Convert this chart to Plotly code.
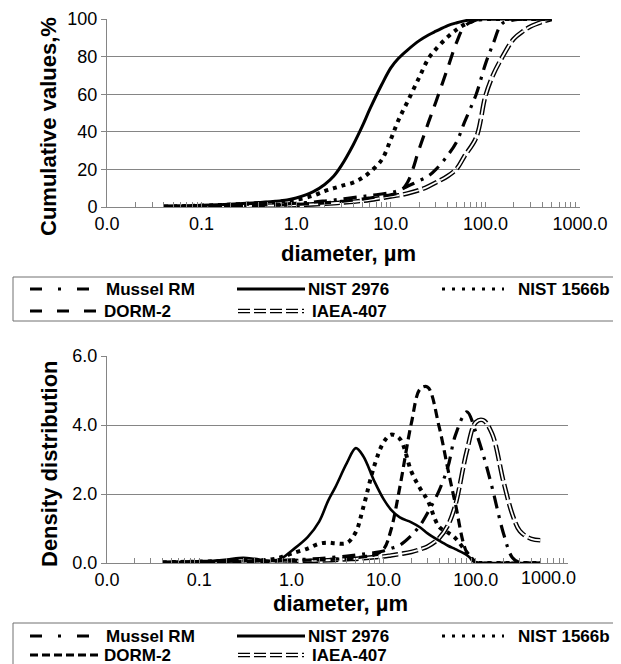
import plotly.graph_objects as go

# ---------------- data ----------------
diameter = [0.04, 0.06, 0.1, 0.15, 0.2, 0.3, 0.4, 0.6, 0.8, 1.0,
            1.5, 2, 2.5, 3, 4, 5, 6, 8, 10,
            12, 15, 20, 25, 30, 40, 50, 60, 80, 100,
            120, 150, 200, 250, 300, 400, 500]

series_names = ["Mussel RM", "NIST 2976", "NIST 1566b", "DORM-2", "IAEA-407"]

cum_mussel = [0.1, 0.2, 0.4, 0.5, 0.7, 0.9, 1.1, 1.4, 1.7, 2.0,
              2.6, 3.2, 3.7, 4.2, 5.0, 5.6, 6.1, 6.9, 7.6,
              8.7, 11, 14, 16.5, 20, 27.5, 35, 45, 60, 76,
              86.5, 97.5, 99.5, 100, 100, 100, 100]
cum_nist2976 = [0.3, 0.5, 0.9, 1.2, 1.5, 2.0, 2.4, 3.0, 3.7, 4.8,
                8, 12, 16.5, 22, 33, 43, 52, 65, 74,
                79, 83.5, 88.5, 91.5, 93.5, 96.5, 98, 99, 100, 100,
                100, 100, 100, 100, 100, 100, 100]
cum_nist1566b = [0.2, 0.4, 0.7, 1.0, 1.3, 1.7, 2.0, 2.6, 3.2, 3.8,
                 6.0, 8.5, 10, 11.2, 13, 15.5, 18.5, 25, 36,
                 46, 56, 69, 79, 84, 90.5, 94.5, 97, 99.5, 100,
                 100, 100, 100, 100, 100, 100, 100]
cum_dorm2 = [0.1, 0.2, 0.3, 0.4, 0.5, 0.7, 0.8, 1.0, 1.2, 1.4,
             1.8, 2.2, 2.6, 3.0, 3.6, 4.2, 4.8, 5.8, 6.5,
             7.5, 13, 31, 45, 56, 74, 88, 96, 99.5, 100,
             100, 100, 100, 100, 100, 100, 100]
cum_iaea407 = [0.05, 0.1, 0.2, 0.3, 0.4, 0.5, 0.6, 0.8, 0.9, 1.0,
               1.4, 1.7, 2.0, 2.3, 2.8, 3.3, 3.8, 4.8, 5.6,
               6.2, 7.2, 9.0, 11, 13, 16.5, 20.5, 27, 37, 59,
               70, 79.5, 89.5, 93.5, 96, 98.5, 100]

den_mussel = [0.01, 0.02, 0.03, 0.04, 0.05, 0.06, 0.06, 0.07, 0.08, 0.09,
              0.11, 0.13, 0.15, 0.17, 0.2, 0.23, 0.26, 0.3, 0.35,
              0.42, 0.52, 0.8, 1.1, 1.45, 2.1, 2.8, 3.7, 4.38, 3.8,
              3.15, 2.2, 0.85, 0.15, 0.01, 0, 0]
den_nist2976 = [0.02, 0.03, 0.05, 0.07, 0.1, 0.15, 0.12, 0.06, 0.15, 0.35,
                0.75, 1.2, 1.8, 2.2, 2.9, 3.33, 3.1, 2.35, 1.85,
                1.55, 1.32, 1.18, 1.03, 0.86, 0.65, 0.5, 0.4, 0.23, 0.02,
                0, 0, 0, 0, 0, 0, 0]
den_nist1566b = [0.02, 0.03, 0.04, 0.05, 0.06, 0.08, 0.08, 0.1, 0.18, 0.27,
                 0.42, 0.56, 0.59, 0.57, 0.58, 0.9, 1.6, 2.85, 3.5,
                 3.72, 3.6, 2.65, 2.15, 1.82, 1.05, 0.88, 0.72, 0.3, 0.02,
                 0, 0, 0, 0, 0, 0, 0]
den_dorm2 = [0.01, 0.01, 0.02, 0.02, 0.03, 0.04, 0.04, 0.05, 0.06, 0.07,
             0.08, 0.09, 0.1, 0.11, 0.13, 0.15, 0.18, 0.24, 0.4,
             0.95, 2.2, 4.05, 5.05, 5.1, 3.95, 2.7, 1.72, 0.3, 0.02,
             0, 0, 0, 0, 0, 0, 0]
den_iaea407 = [0, 0.01, 0.01, 0.01, 0.02, 0.02, 0.03, 0.03, 0.04, 0.05,
               0.06, 0.07, 0.08, 0.09, 0.11, 0.12, 0.14, 0.17, 0.19,
               0.22, 0.26, 0.32, 0.4, 0.48, 0.72, 1.1, 1.68, 3.25, 4.08,
               4.14, 3.75, 2.35, 1.4, 0.93, 0.7, 0.66]

x_tickvals = [0.01, 0.1, 1, 10, 100, 1000]
x_ticktext = ["0.0", "0.1", "1.0", "10.0", "100.0", "1000.0"]
minor_vals = [m * 10 ** k for k in range(-2, 3) for m in range(2, 10)]

cum_series = [cum_mussel, cum_nist2976, cum_nist1566b, cum_dorm2, cum_iaea407]
den_series = [den_mussel, den_nist2976, den_nist1566b, den_dorm2, den_iaea407]

# ---------------- styling ----------------
# the page has an 8px body margin, so the figure is 8px smaller and all
# page-pixel positions are shifted by 8px
OFF = 8
W, H = 621 - OFF, 664 - OFF
FONT = "Liberation Sans, Arial, Helvetica, sans-serif"
GRAY = "#858585"


def px(x):
    return (x - OFF) / W


def py(y):
    return 1 - (y - OFF) / H


styles_top = [
    dict(color="black", width=3.2, dash="13px,7px,3px,7px"),
    dict(color="black", width=3, dash="solid"),
    dict(color="black", width=4, dash="4px,5px"),
    dict(color="black", width=3.2, dash="13px,9px"),
    None,
]
styles_bot = [
    dict(color="black", width=3.2, dash="13px,7px,3px,7px"),
    dict(color="black", width=2.6, dash="solid"),
    dict(color="black", width=4, dash="4px,5px"),
    dict(color="black", width=3.2, dash="9px,5px"),
    None,
]

fig = go.Figure()


def add_series(xa, ya, values, style, name):
    if style is None:  # double line
        fig.add_trace(go.Scatter(x=diameter, y=values, mode="lines", name=name,
                                 xaxis=xa, yaxis=ya,
                                 line=dict(color="black", width=4.6, dash="16px,4px",
                                           shape="spline", smoothing=1)))
        fig.add_trace(go.Scatter(x=diameter, y=values, mode="lines", name=name,
                                 xaxis=xa, yaxis=ya, showlegend=False,
                                 line=dict(color="white", width=1.8, dash="16px,4px",
                                           shape="spline", smoothing=1)))
    else:
        fig.add_trace(go.Scatter(x=diameter, y=values, mode="lines", name=name,
                                 xaxis=xa, yaxis=ya,
                                 line=dict(shape="spline", smoothing=1, **style)))


# draw order: IAEA first (beneath), then others
order = [4, 0, 3, 2, 1]
for i in order:
    add_series("x", "y", cum_series[i], styles_top[i], series_names[i])
for i in order:
    add_series("x2", "y2", den_series[i], styles_bot[i], series_names[i])

tickfont = dict(family=FONT, size=18, color="black")

xcommon = dict(type="log", range=[-2, 3], tickmode="array", tickvals=x_tickvals,
               ticks="inside", ticklen=5, tickcolor=GRAY, tickwidth=1,
               showline=True, linecolor=GRAY, linewidth=1, showgrid=False,
               zeroline=False, tickfont=tickfont, automargin=False,
               minor=dict(tickmode="array", tickvals=minor_vals, ticks="inside",
                          ticklen=5, tickcolor=GRAY, tickwidth=1, showgrid=False))
ycommon = dict(ticks="outside", ticklen=5, tickcolor=GRAY, tickwidth=1,
               showline=True, linecolor=GRAY, linewidth=1, showgrid=True,
               gridcolor=GRAY, gridwidth=1, zeroline=False, tickfont=tickfont,
               tickmode="linear", automargin=False)

fig.update_layout(
    width=W, height=H, autosize=False,
    margin=dict(l=0, r=0, t=0, b=0, pad=0, autoexpand=False),
    paper_bgcolor="white", plot_bgcolor="white",
    showlegend=False,
    xaxis=dict(domain=[px(107), px(580)], anchor="y", ticktext=x_ticktext, **xcommon),
    yaxis=dict(domain=[py(207), py(19)], anchor="x", range=[0, 100], dtick=20, tick0=0,
               **ycommon),
    xaxis2=dict(domain=[px(107), px(568)], anchor="y2",
                ticktext=x_ticktext[:-1] + [""], **xcommon),
    yaxis2=dict(domain=[py(563), py(356)], anchor="x2", range=[0, 6], dtick=2, tick0=0,
                tickformat=".1f", **ycommon),
)

annotations = []
title_font = dict(family=FONT, size=22, color="black", weight="bold")
annotations.append(dict(text="Cumulative values,%", x=px(48), y=py(127), xref="paper",
                        yref="paper", textangle=-90, showarrow=False, font=title_font,
                        xanchor="center", yanchor="middle"))
annotations.append(dict(text="Density distribution", x=px(50), y=py(464), xref="paper",
                        yref="paper", textangle=-90, showarrow=False, font=title_font,
                        xanchor="center", yanchor="middle"))
annotations.append(dict(text="diameter, µm", x=px(348), y=py(253), xref="paper",
                        yref="paper", showarrow=False, font=title_font,
                        xanchor="center", yanchor="middle"))
annotations.append(dict(text="diameter, µm", x=px(340), y=py(603), xref="paper",
                        yref="paper", showarrow=False, font=title_font,
                        xanchor="center", yanchor="middle"))
# last tick label of bottom axis (shifted inward as in the reference)
annotations.append(dict(text=x_ticktext[-1], x=px(548), y=py(578), xref="paper",
                        yref="paper", showarrow=False, font=tickfont,
                        xanchor="center", yanchor="middle"))

shapes = []
leg_font = dict(family=FONT, size=17, color="black", weight="bold")


def legend_block(box_top, row1, row2, dorm_dash):
    shapes.append(dict(type="rect", xref="paper", yref="paper",
                       x0=px(13), x1=px(660), y0=py(box_top), y1=py(box_top + 44),
                       line=dict(color="#707070", width=1), fillcolor="white", layer="above"))

    def seg(x0, x1, y, **line):
        shapes.append(dict(type="line", xref="paper", yref="paper", x0=px(x0), x1=px(x1),
                           y0=py(y), y1=py(y), line=line, layer="above"))

    def txt(x, y, s):
        annotations.append(dict(text=s, x=px(x), y=py(y), xref="paper", yref="paper",
                                showarrow=False, font=leg_font, xanchor="left",
                                yanchor="middle"))

    # row 1
    seg(30, 89, row1, color="black", width=3.2, dash="12px,16px,3px,16px")
    txt(104, row1, series_names[0])
    seg(237, 305, row1, color="black", width=3)
    txt(306, row1, series_names[1])
    seg(442, 504, row1, color="black", width=3, dash="3px,7px")
    txt(516, row1, series_names[2])
    # row 2
    seg(30, 100, row2, color="black", width=3.2, dash=dorm_dash)
    txt(102, row2, series_names[3])
    seg(238, 304, row2, color="black", width=4.6, dash="12px,4px")
    seg(238, 304, row2, color="white", width=1.8, dash="12px,4px")
    txt(310, row2, series_names[4])


legend_block(277, 289, 311, "12px,15px")
legend_block(623, 636, 655, "8px,4px")

fig.update_layout(annotations=annotations, shapes=shapes)

fig.write_html("out.html")
